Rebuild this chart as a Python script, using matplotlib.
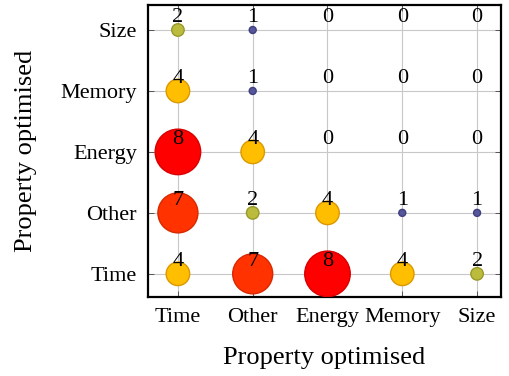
import matplotlib
matplotlib.use('Agg')
import matplotlib.pyplot as plt
from matplotlib.colors import LinearSegmentedColormap

plt.rcParams['font.family'] = ['Liberation Serif', 'DejaVu Serif']

categories = ['Time', 'Other', 'Energy', 'Memory', 'Size']
# counts[row][col]: row = y category (bottom to top), col = x category
counts = [
    [4, 7, 8, 4, 2],   # Time
    [7, 2, 4, 1, 1],   # Other
    [8, 4, 0, 0, 0],   # Energy
    [4, 1, 0, 0, 0],   # Memory
    [2, 1, 0, 0, 0],   # Size
]

cmap = LinearSegmentedColormap.from_list(
    'bub', [(0.0, '#56569a'), (1/7, '#bcbc3c'), (3/7, '#ffbf00'),
            (6/7, '#ff3300'), (1.0, '#ff0000')])
edge = LinearSegmentedColormap.from_list(
    'bub_e', [(0.0, '#404080'), (1/7, '#9a9a2a'), (3/7, '#dc9800'),
              (6/7, '#d82800'), (1.0, '#d80000')])

fig = plt.figure(figsize=(5.1, 3.76), dpi=100)
ax = fig.add_axes([148/510, 1-297/376, 353/510, 292/376])

xs, ys, vs = [], [], []
for r, row in enumerate(counts):
    for c, v in enumerate(row):
        if v > 0:
            xs.append(c); ys.append(r); vs.append(v)
        ax.annotate(str(v), (c, r), xytext=(0, 2), textcoords='offset points',
                    ha='center', va='bottom', fontsize=16, zorder=5)

sizes = [((5.5 * v + 1.5) * 0.72) ** 2 for v in vs]
norm = [(v - 1) / 7 for v in vs]
ax.scatter(xs, ys, s=sizes, c=[cmap(n) for n in norm],
           edgecolors=[edge(n) for n in norm], linewidths=1.0, zorder=3)

ax.set_xticks(range(5))
ax.set_xticklabels(categories)
ax.set_yticks(range(5))
ax.set_yticklabels(categories)
ax.set_xlim(-0.4, 4.32)
ax.set_ylim(-0.38, 4.41)
ax.grid(True, color='#c8c8c8', linewidth=0.8, zorder=0)
ax.set_axisbelow(True)
ax.tick_params(direction='in', length=4, width=0.6, color='#444444',
               labelsize=16, pad=8, right=True, top=True)
for s in ax.spines.values():
    s.set_linewidth(1.6)

ax.set_xlabel('Property optimised', fontsize=19, labelpad=14)
ax.set_ylabel('Property optimised', fontsize=19, labelpad=17)

fig.savefig('out.png', dpi=100)
